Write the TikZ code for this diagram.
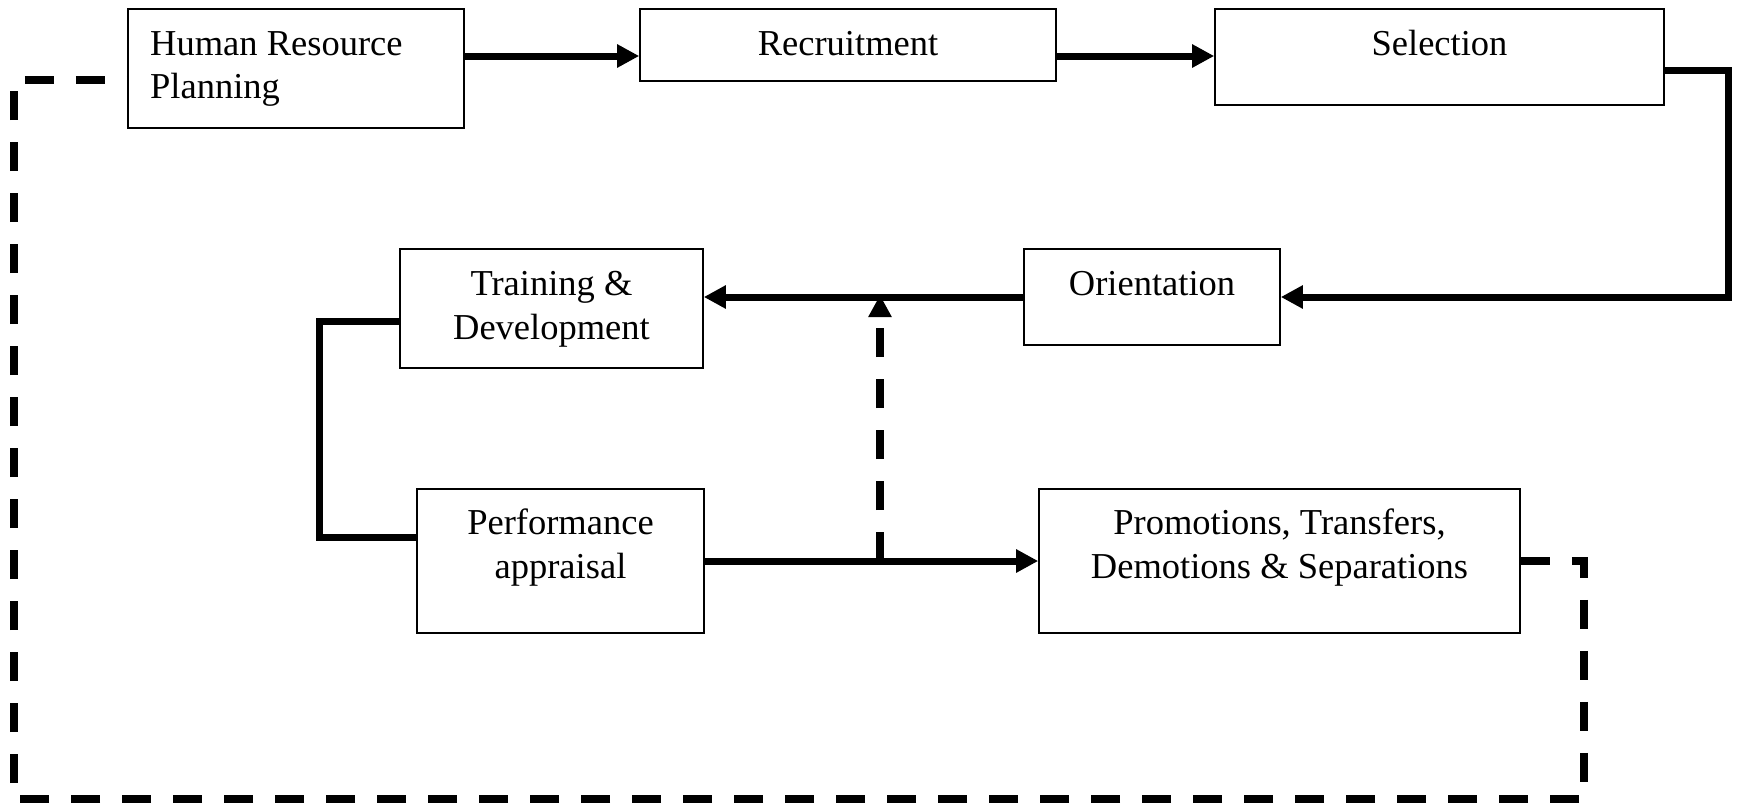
\documentclass[tikz,border=0pt]{standalone}
\usepackage{fontspec}
\setmainfont{Liberation Serif}
\usetikzlibrary{arrows.meta}

\begin{document}
\begin{tikzpicture}[x=1pt,y=-1pt,
  box/.style={draw, line width=1.6pt, inner sep=0pt, fill=white},
  txt/.style={inner sep=0pt, anchor=base, font=\fontsize{36.5}{44}\selectfont},
  conn/.style={line width=7pt},
  tip/.style={-{Triangle[length=22pt,width=22pt]}},
  loopline/.style={line width=7.5pt, dash pattern=on 29pt off 22pt}
]
\useasboundingbox (0,0) rectangle (1737,804);

% process boxes
\node[box, minimum width=336pt, minimum height=119pt] (hrp)   at (296,68.5)  {};
\node[box, minimum width=416pt, minimum height=72pt]  (rec)   at (848,45)    {};
\node[box, minimum width=449pt, minimum height=96pt]  (sel)   at (1439.5,57) {};
\node[box, minimum width=256pt, minimum height=96pt]  (ori)   at (1152,297)  {};
\node[box, minimum width=303pt, minimum height=119pt] (trn)   at (551.5,308.5) {};
\node[box, minimum width=287pt, minimum height=144pt] (perf)  at (560.5,561) {};
\node[box, minimum width=481pt, minimum height=144pt] (promo) at (1279.5,561) {};

% box texts
\node[txt, anchor=base west] (hrpA) at (150,55) {Human Resource};
\node[txt, anchor=base west] (hrpB) at (150,98) {Planning};
\node[txt] (recA) at (848,55) {Recruitment};
\node[txt] (selA) at (1439.5,55) {Selection};
\node[txt] (oriA) at (1152,295) {Orientation};
\node[txt] (trnA) at (551.5,295) {Training \&};
\node[txt] (trnB) at (551.5,339) {Development};
\node[txt] (perfA) at (560.5,534) {Performance};
\node[txt] (perfB) at (560.5,578) {appraisal};
\node[txt] (proA) at (1279.5,534) {Promotions, Transfers,};
\node[txt] (proB) at (1279.5,578) {Demotions \& Separations};

% connector levels and corners
\coordinate (r1) at (0,56);
\coordinate (s1) at (1728,70);
\coordinate (t1) at (319,321);
\coordinate (t2) at (0,537);
\coordinate (j)  at (880,561);
\coordinate (c1) at (1584,561);
\coordinate (c2) at (1584,799);
\coordinate (c3) at (14,799);
\coordinate (c4) at (14,80);

% main flow
\draw[conn,tip] (hrp.east |- r1) -- (rec.west |- r1);
\draw[conn,tip] (rec.east |- r1) -- (sel.west |- r1);
\draw[conn,tip] (sel.east |- s1) -- (s1) -- (s1 |- ori.east) -- (ori.east);
\draw[conn,tip] (ori.west) -- (trn.east |- ori.west);
\draw[conn] (trn.west |- t1) -- (t1) -- (t1 |- t2) -- (perf.west |- t2);
\draw[conn,tip] (perf.east) -- (promo.west);

% feedback paths
\draw[loopline,tip] (j) -- ([yshift=2pt]j |- ori.west);
\draw[loopline] (promo.east) -- (c1) -- (c2) -- (c3) -- (c4) -- (hrp.west |- c4);
\end{tikzpicture}
\end{document}
